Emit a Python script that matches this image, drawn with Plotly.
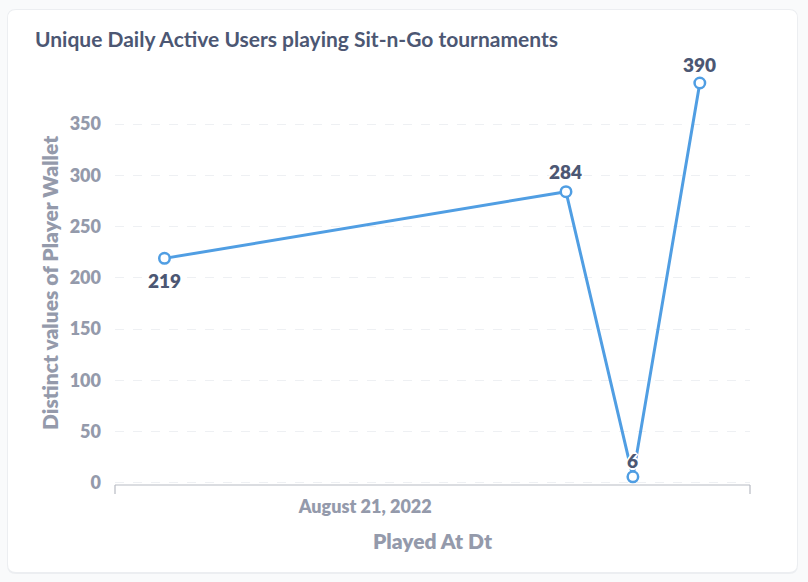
import plotly.graph_objects as go

# ---- data ----
dates = ["2022-08-18", "2022-08-24", "2022-08-25", "2022-08-26"]
users = [219, 284, 6, 390]
label_shifts = [-22, 20, 16, 19]
x_tick_vals = ["2022-08-21"]
x_tick_text = ["August 21, 2022"]
y_tick_vals = [0, 50, 100, 150, 200, 250, 300, 350]

title_text = "Unique Daily Active Users playing Sit-n-Go tournaments"
x_title = "Played At Dt"
y_title = "Distinct values of Player Wallet"

W, H = 808, 582
L, R, T, B = 115, 750, 83, 485
BOLD = 800

def px(x):
    return (x - L) / (R - L)

def py(y):
    return (B - y) / (B - T)

def rounded_rect(x0, y0, x1, y1, r):
    X0, X1 = px(x0), px(x1)
    Y0, Y1 = py(y0), py(y1)
    rx = r / (R - L)
    ry = r / (B - T)
    return (f"M {X0+rx},{Y0} L {X1-rx},{Y0} Q {X1},{Y0} {X1},{Y0-ry} "
            f"L {X1},{Y1+ry} Q {X1},{Y1} {X1-rx},{Y1} "
            f"L {X0+rx},{Y1} Q {X0},{Y1} {X0},{Y1+ry} "
            f"L {X0},{Y0-ry} Q {X0},{Y0} {X0+rx},{Y0} Z")

outline = "1px 1px 0 #fff, -1px -1px 0 #fff, 1px -1px 0 #fff, -1px 1px 0 #fff, 0 2px 0 #fff, 0 -2px 0 #fff, 2px 0 0 #fff, -2px 0 0 #fff"

fig = go.Figure()
fig.add_trace(go.Scatter(
    x=dates, y=users, mode="lines+markers",
    line=dict(color="#509ee3", width=3),
    marker=dict(size=10.5, color="white", line=dict(color="#509ee3", width=2.5)),
    cliponaxis=False, hoverinfo="x+y",
))

shapes = [
    dict(type="path", xref="paper", yref="paper", path=rounded_rect(7, 9, 798, 574, 9),
         fillcolor="#eceef1", line=dict(width=0), layer="below"),
    dict(type="path", xref="paper", yref="paper", path=rounded_rect(8, 10, 797, 572, 8),
         fillcolor="white", line=dict(width=0), layer="below"),
    dict(type="line", xref="paper", yref="paper", x0=0, x1=1, y0=0, y1=0,
         line=dict(color="#b8bbc3", width=1.2)),
    dict(type="line", xref="paper", yref="paper", x0=0, x1=0, y0=0, y1=py(494),
         line=dict(color="#b8bbc3", width=1.2)),
    dict(type="line", xref="paper", yref="paper", x0=1, x1=1, y0=0, y1=py(494),
         line=dict(color="#b8bbc3", width=1.2)),
]

annotations = [
    dict(text=title_text, xref="paper", yref="paper", x=px(33), y=py(38),
         xanchor="left", yanchor="middle", showarrow=False,
         font=dict(family="Lato", size=21, color="#4c5773", weight=700)),
    dict(text=x_title, xref="paper", yref="paper", x=px(433), y=py(540),
         xanchor="center", yanchor="middle", showarrow=False,
         font=dict(family="Lato", size=21, color="#949aab", weight=BOLD)),
    dict(text=y_title, xref="paper", yref="paper", x=px(49), y=py(283),
         xanchor="center", yanchor="middle", showarrow=False, textangle=-90,
         font=dict(family="Lato", size=21, color="#949aab", weight=BOLD)),
]
for d, v, s in zip(dates, users, label_shifts):
    annotations.append(dict(
        text=str(v), x=d, y=v, xref="x", yref="y", yshift=s,
        xanchor="center", yanchor="middle", showarrow=False,
        font=dict(family="Lato", size=19, color="#4c5773", weight=BOLD, shadow=outline)))

fig.update_layout(
    width=W, height=H,
    margin=dict(l=L, r=W - R, t=T, b=H - B, pad=0),
    paper_bgcolor="#f9fafb", plot_bgcolor="rgba(0,0,0,0)",
    showlegend=False, shapes=shapes, annotations=annotations,
    font=dict(family="Lato"),
    xaxis=dict(
        type="date", range=["2022-08-17 06:15", "2022-08-26 18:00"],
        tickvals=x_tick_vals, ticktext=x_tick_text,
        showgrid=False, zeroline=False, showline=False, ticks="",
        ticklabelstandoff=9,
        tickfont=dict(family="Lato", size=18, color="#949aab", weight=BOLD),
    ),
    yaxis=dict(
        range=[-2, 390], tickvals=y_tick_vals,
        showgrid=True, gridcolor="#eef0f3", griddash="dash", gridwidth=1,
        zeroline=False, showline=False, ticks="",
        ticklabelstandoff=13,
        tickfont=dict(family="Lato", size=18, color="#949aab", weight=BOLD),
    ),
)

fig.write_html("out.html", config={"displayModeBar": False},
               post_script="document.body.style.margin='0';document.body.style.background='#f9fafb';")
